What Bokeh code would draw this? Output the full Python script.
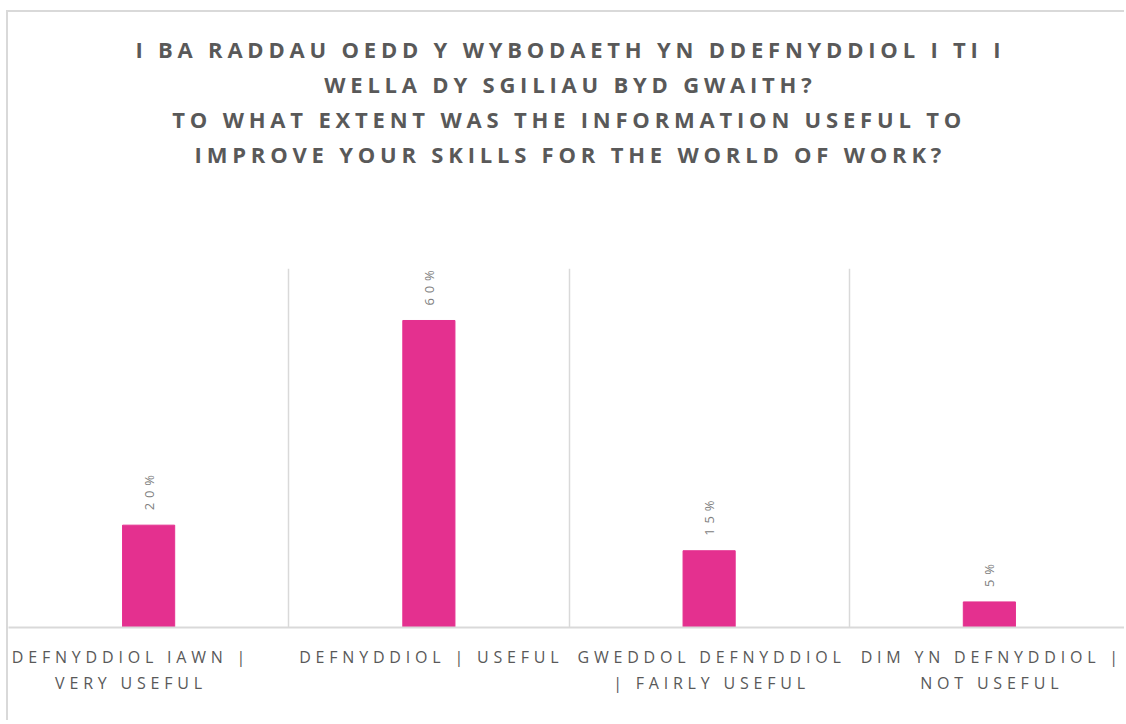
import math
from bokeh.plotting import figure
from bokeh.models import (ColumnDataSource, LabelSet, FixedTicker, Range1d, Title,
                          LinearAxis)
from bokeh.core.properties import value
from bokeh.embed import file_html
from bokeh.resources import INLINE

# ---- data ----
categories = [
    "DEFNYDDIOL IAWN | VERY USEFUL",
    "DEFNYDDIOL | USEFUL",
    "GWEDDOL DEFNYDDIOL | FAIRLY USEFUL",
    "DIM YN DEFNYDDIOL | NOT USEFUL",
]
tick_line1 = ["DEFNYDDIOL IAWN |", "DEFNYDDIOL | USEFUL", "GWEDDOL DEFNYDDIOL", "DIM YN DEFNYDDIOL |"]
tick_line2 = ["VERY USEFUL", "", "| FAIRLY USEFUL", "NOT USEFUL"]
values = [20, 60, 15, 5]
title_lines = [
    "I BA RADDAU OEDD Y WYBODAETH YN DDEFNYDDIOL I TI I",
    "WELLA DY SGILIAU BYD GWAITH?",
    "TO WHAT EXTENT WAS THE INFORMATION USEFUL TO",
    "IMPROVE YOUR SKILLS FOR THE WORLD OF WORK?",
]

# ---- layout / style ----
GRAY = "#595959"
LIGHT = "#d9d9d9"
PINK = "#E4308F"
FONT = "Open Sans"
LS = 4.8                       # letter spacing (px)
CAT_PX = 280.25                # pixel width of one category
label_nudge = [-20, 0, 0, 0]   # small horizontal nudges of category labels (px)
title_w = [630, 358, 585, 550] # rendered widths of the title lines without letter spacing (px)
TITLE_CX = 559.5               # title centre measured from the frame's left edge (px)

xpos = [i + 0.5 for i in range(len(categories))]


def centre_fix(s):
    # text is laid out from its left edge; letter spacing widens it to the right
    return -(max(len(s) - 1, 0)) * LS / 2


source = ColumnDataSource(dict(
    x=xpos, top=values, cat=categories,
    lab=[f"{v}%" for v in values],
))

W, H = 1118, 710
p = figure(
    width=W, height=H,
    x_range=Range1d(0, W / CAT_PX), y_range=Range1d(0, 70.16),
    output_backend="svg", toolbar_location=None,
    x_axis_location=None, y_axis_location=None,
    min_border_left=0, min_border_right=0, min_border_bottom=95, min_border_top=256,
)
p.styles = {
    "margin-left": "6px", "margin-top": "10px",
    "border-top": f"2px solid {LIGHT}", "border-left": f"2px solid {LIGHT}",
    "letter-spacing": f"{LS}px",
}
p.outline_line_color = None
p.background_fill_color = None
p.border_fill_color = None

p.vbar(x="x", top="top", width=0.186, source=source, color=PINK)

p.add_layout(LabelSet(
    x="x", y="top", text="lab", source=source,
    angle=math.pi / 2, text_align="left", text_baseline="middle",
    y_offset=15, text_color="#808080", text_font=value(FONT), text_font_size="13px",
))

# ---- above: blank spacer title nearest the frame, then the title lines ----
p.add_layout(Title(text=" ", text_font=FONT, text_font_size="22px",
                   standoff=66), "above")
for line, w in reversed(list(zip(title_lines, title_w))):
    visible = w + (len(line) - 1) * LS
    p.add_layout(Title(text=line, align="left", offset=TITLE_CX - visible / 2,
                       text_font=FONT, text_font_size="22px", text_font_style="bold",
                       text_color=GRAY, standoff=3), "above")


# ---- below: two axes, one per label line ----
def label_axis(lines, standoff, tick_out, line_color):
    ticks, overrides = [], {}
    for x, s, n in zip(xpos, lines, label_nudge):
        if not s:
            continue
        t = x + (centre_fix(s) + n) / CAT_PX
        ticks.append(t)
        overrides[t] = s
    a = LinearAxis(ticker=FixedTicker(ticks=ticks), major_label_overrides=overrides)
    a.major_tick_line_color = None
    a.minor_tick_line_color = None
    a.major_tick_out = tick_out
    a.major_tick_in = 0
    a.axis_line_color = line_color
    a.axis_line_width = 2
    a.major_label_text_font = FONT
    a.major_label_text_font_size = "16px"
    a.major_label_text_color = GRAY
    a.major_label_standoff = standoff
    return a


p.add_layout(label_axis(tick_line1, 12, 6, LIGHT), "below")
p.add_layout(label_axis(tick_line2, 1, 0, None), "below")

# vertical separators between categories
p.xgrid.ticker = FixedTicker(ticks=list(range(1, len(categories))))
p.xgrid.grid_line_color = LIGHT
p.xgrid.grid_line_width = 1.5
p.ygrid.grid_line_color = None

open("out.html", "w").write(file_html(p, INLINE))
